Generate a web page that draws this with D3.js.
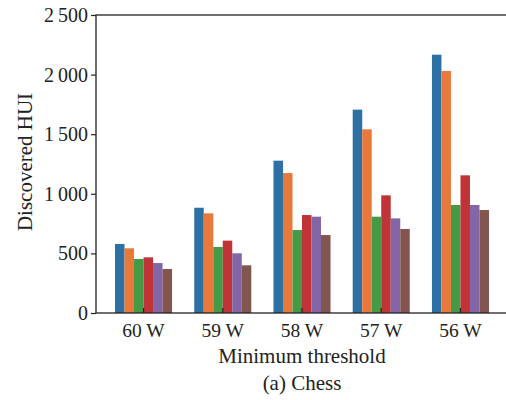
<!DOCTYPE html>
<html lang="en">
<head>
    <meta charset="UTF-8">
    <script src="https://d3js.org/d3.v7.min.js"></script>
    <title>Chess - Discovered HUI</title>
    <style>
        body { margin: 0; background: #fff; }
        text { font-family: "Liberation Serif", "Times New Roman", serif; fill: #222; }
    </style>
</head>
<body>
    <script>
        var w = 506;
        var h = 400;

        var thresholds = ["60 W", "59 W", "58 W", "57 W", "56 W"];
        // six algorithms, one value per threshold
        var s1 = [579, 883, 1278, 1706, 2167];
        var s2 = [543, 836, 1174, 1541, 2030];
        var s3 = [453, 554, 696, 808, 906];
        var s4 = [467, 607, 822, 987, 1155];
        var s5 = [419, 501, 808, 794, 906];
        var s6 = [369, 400, 654, 705, 864];
        var yTicks = [0, 500, 1000, 1500, 2000, 2500];

        var series = [s1, s2, s3, s4, s5, s6];
        var colors = ["#2d70a4", "#e8793a", "#459a45", "#c03437", "#8366a7", "#82564f"];

        var plotL = 96, plotR = 508, plotT = 15, plotB = 313;

        var x = d3.scaleBand()
                  .domain(thresholds)
                  .range([plotL, plotR])
                  .paddingInner(0.28)
                  .paddingOuter(0.24);

        var xs = d3.scaleBand()
                   .domain(d3.range(series.length))
                   .range([0, x.bandwidth()]);

        var y = d3.scaleLinear()
                  .domain([0, 2500])
                  .range([plotB, plotT]);

        var fmt = function(d) {
            return d3.format(",")(d).replace(",", "\u2009");
        };

        var svg = d3.select("body")
                    .append("svg")
                    .attr("width", w)
                    .attr("height", h);

        var groups = svg.selectAll("g.grp")
                        .data(thresholds)
                        .enter()
                        .append("g")
                        .attr("class", "grp")
                        .attr("transform", function(d) { return "translate(" + x(d) + ",0)"; });

        groups.selectAll("rect")
              .data(function(d, i) {
                  return series.map(function(s, k) { return { k: k, v: s[i] }; });
              })
              .enter()
              .append("rect")
              .attr("x", function(d) { return xs(d.k); })
              .attr("width", xs.bandwidth())
              .attr("y", function(d) { return y(d.v); })
              .attr("height", function(d) { return plotB - y(d.v); })
              .attr("fill", function(d) { return colors[d.k]; });

        // frame
        svg.append("rect")
           .attr("x", plotL)
           .attr("y", plotT)
           .attr("width", plotR - plotL)
           .attr("height", plotB - plotT)
           .attr("fill", "none")
           .attr("stroke", "#222")
           .attr("stroke-width", 1.3);

        var yAxis = svg.append("g")
                       .attr("transform", "translate(" + plotL + ",0)")
                       .call(d3.axisLeft(y).tickValues(yTicks).tickFormat(fmt).tickSize(5).tickPadding(3));
        yAxis.select(".domain").remove();
        yAxis.selectAll("line").attr("stroke", "#222").attr("stroke-width", 1.2);
        yAxis.selectAll("text").style("font-size", "20px").attr("fill", "#222");

        var xAxis = svg.append("g")
                       .attr("transform", "translate(0," + plotB + ")")
                       .call(d3.axisBottom(x).tickSizeInner(-5).tickSizeOuter(0).tickPadding(10));
        xAxis.select(".domain").remove();
        xAxis.selectAll("line").attr("stroke", "#222").attr("stroke-width", 1.2);
        xAxis.selectAll("text").style("font-size", "19.5px").attr("fill", "#222");

        svg.append("text")
           .attr("transform", "translate(32,162) rotate(-90)")
           .attr("text-anchor", "middle")
           .style("font-size", "21px")
           .text("Discovered HUI");

        svg.append("text")
           .attr("x", (plotL + plotR) / 2)
           .attr("y", 363)
           .attr("text-anchor", "middle")
           .style("font-size", "21px")
           .text("Minimum threshold");

        svg.append("text")
           .attr("x", (plotL + plotR) / 2)
           .attr("y", 390)
           .attr("text-anchor", "middle")
           .style("font-size", "21px")
           .text("(a) Chess");
    </script>
</body>
</html>
